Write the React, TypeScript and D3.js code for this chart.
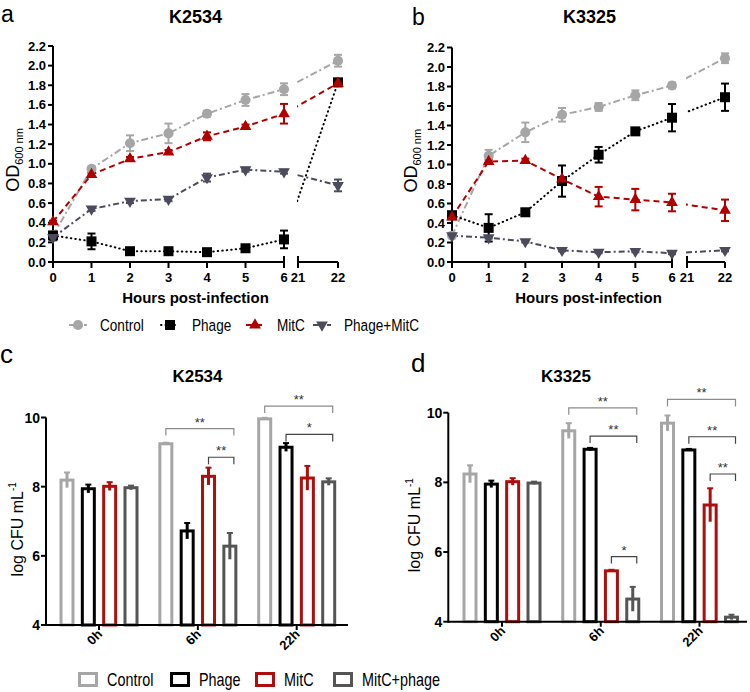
import React from "react";
import * as d3 from "d3";

// ---- growth curves (panels a, b) ----
const hours = [0, 1, 2, 3, 4, 5, 6, 22];
const hourTicks = [0, 1, 2, 3, 4, 5, 6, 21, 22];
const odTicks = [0, 0.2, 0.4, 0.6, 0.8, 1.0, 1.2, 1.4, 1.6, 1.8, 2.0, 2.2];
const lineSeries = ["Control", "Phage", "MitC", "Phage+MitC"];

const controlA = [0.27, 0.95, 1.21, 1.31, 1.51, 1.65, 1.76, 2.05];
const controlAErr = [0.04, 0.02, 0.08, 0.1, 0.03, 0.06, 0.06, 0.06];
const phageA = [0.27, 0.21, 0.11, 0.11, 0.1, 0.14, 0.23, 1.83];
const phageAErr = [0.02, 0.08, 0.02, 0.01, 0.01, 0.02, 0.09, 0.03];
const mitcA = [0.41, 0.89, 1.05, 1.12, 1.28, 1.38, 1.51, 1.82];
const mitcAErr = [0.01, 0.02, 0.02, 0.02, 0.04, 0.02, 0.1, 0.03];
const comboA = [0.25, 0.54, 0.62, 0.64, 0.86, 0.94, 0.92, 0.78];
const comboAErr = [0.03, 0.02, 0.02, 0.02, 0.04, 0.02, 0.02, 0.06];

const controlB = [0.27, 1.09, 1.33, 1.51, 1.59, 1.71, 1.81, 2.09];
const controlBErr = [0.02, 0.06, 0.1, 0.07, 0.04, 0.05, 0.03, 0.05];
const phageB = [0.48, 0.35, 0.51, 0.83, 1.1, 1.34, 1.48, 1.69];
const phageBErr = [0.03, 0.14, 0.02, 0.16, 0.08, 0.02, 0.14, 0.14];
const mitcB = [0.46, 1.03, 1.04, 0.85, 0.67, 0.64, 0.61, 0.53];
const mitcBErr = [0.02, 0.02, 0.02, 0.02, 0.1, 0.11, 0.09, 0.11];
const comboB = [0.27, 0.25, 0.21, 0.12, 0.1, 0.11, 0.09, 0.12];
const comboBErr = [0.01, 0.01, 0.01, 0.01, 0.01, 0.01, 0.01, 0.01];

// ---- viable counts (panels c, d) ----
const timePoints = ["0h", "6h", "22h"];
const barSeries = ["Control", "Phage", "MitC", "MitC+phage"];
const cfuTicks = [4, 6, 8, 10];

const controlC = [8.19, 9.24, 9.96];
const controlCErr = [0.22, 0.03, 0.03];
const phageC = [7.94, 6.72, 9.14];
const phageCErr = [0.12, 0.23, 0.12];
const mitcC = [8.01, 8.3, 8.25];
const mitcCErr = [0.12, 0.25, 0.35];
const comboC = [7.97, 6.28, 8.14];
const comboCErr = [0.06, 0.38, 0.1];

const controlD = [8.24, 9.48, 9.7];
const controlDErr = [0.25, 0.22, 0.22];
const phageD = [7.95, 8.95, 8.93];
const phageDErr = [0.1, 0.04, 0.03];
const mitcD = [8.02, 5.46, 7.35];
const mitcDErr = [0.1, 0.03, 0.48];
const comboD = [7.98, 4.65, 4.13];
const comboDErr = [0.04, 0.35, 0.07];

// significance: [time point, from series, to series, level (log CFU), label]
const sigC: [string, number, number, number, string][] = [
  ["6h", 0, 3, 9.68, "**"],
  ["6h", 2, 3, 8.85, "**"],
  ["22h", 0, 3, 10.33, "**"],
  ["22h", 1, 3, 9.51, "*"],
];
const sigD: [string, number, number, number, string][] = [
  ["6h", 0, 3, 10.14, "**"],
  ["6h", 1, 3, 9.33, "**"],
  ["6h", 2, 3, 5.87, "*"],
  ["22h", 0, 3, 10.38, "**"],
  ["22h", 1, 3, 9.31, "**"],
  ["22h", 2, 3, 8.24, "**"],
];

// styles
const lineColors = ["#a6a6a6", "#000000", "#b00000", "#4b4b5c"];
const lineDash = ["7,3,2,3", "0.5,4", "6,4", "6,3,2,3"];
const barColors = ["#a6a6a6", "#000000", "#b00d0d", "#555555"];
const FONT = "'Liberation Sans', Arial, sans-serif";

function Marker({ i, x, y }: { i: number; x: number; y: number }) {
  const types = [d3.symbolCircle, d3.symbolSquare, d3.symbolTriangle, d3.symbolTriangle];
  const sizes = [80, 100, 60, 60];
  const d = d3.symbol().type(types[i]).size(sizes[i])() as string;
  const rot = i === 3 ? " rotate(180)" : "";
  return <path d={d} transform={`translate(${x},${y})${rot}`} fill={lineColors[i]} />;
}

function LinePanel(props: {
  id: string;
  values: number[][];
  errors: number[][];
  x0: number; x6: number; x21: number; x22: number;
  y0: number; yTop: number;
  title: string; titleX: number;
  letter: string; letterX: number; letterY: number;
  labelX: number;
}) {
  const { id, values, errors, x0, x6, x21, x22, y0, yTop } = props;
  const xa = d3.scaleLinear().domain([0, 6]).range([x0, x6]);
  const xb = d3.scaleLinear().domain([21, 22]).range([x21, x22]);
  const xOf = (h: number) => (h <= 6 ? xa(h) : xb(h));
  const y = d3.scaleLinear().domain([0, 2.2]).range([y0, yTop]);
  const line = d3
    .line<number>()
    .x((_, i) => xOf(hours[i]))
    .y((d) => y(d));
  const last = hours.length - 1;
  return (
    <g>
      <defs>
        <clipPath id={id + "-seg2"}>
          <rect x={x21 - 1} y={0} width={x22 - x21 + 30} height={y0} />
        </clipPath>
      </defs>
      <text x={props.letterX} y={props.letterY} fontSize={23} fontFamily={FONT}>
        {props.letter}
      </text>
      <text x={props.titleX} y={23} fontSize={18} fontWeight="bold" textAnchor="middle">
        {props.title}
      </text>
      {/* y axis */}
      <line x1={x0} x2={x0} y1={y(2.2)} y2={y0 + 1} stroke="#000" strokeWidth={2} />
      {odTicks.map((t) => (
        <g key={t}>
          <line x1={x0 - 5} x2={x0} y1={y(t)} y2={y(t)} stroke="#000" strokeWidth={2} />
          <text x={x0 - 7} y={y(t) + 4.5} fontSize={13} fontWeight="bold" textAnchor="end">
            {t.toFixed(1)}
          </text>
        </g>
      ))}
      <text transform={`translate(${props.labelX},${(y0 + yTop) / 2 + 6}) rotate(-90)`} textAnchor="middle">
        <tspan fontSize={18}>OD</tspan>
        <tspan fontSize={11} dy={4}>600 nm</tspan>
      </text>
      {/* x axis, broken */}
      <line x1={x0 - 1} x2={x6} y1={y0} y2={y0} stroke="#000" strokeWidth={2} />
      <line x1={x21} x2={x22} y1={y0} y2={y0} stroke="#000" strokeWidth={2} />
      {hourTicks.map((h) => (
        <g key={h}>
          <line x1={xOf(h)} x2={xOf(h)} y1={y0} y2={y0 + 6} stroke="#000" strokeWidth={2} />
          <line
            x1={xOf(h)} x2={xOf(h)} y1={y0} y2={h === 6 || h === 21 ? y0 - 6 : y0}
            stroke="#000" strokeWidth={2}
          />
          <text x={xOf(h)} y={y0 + 20} fontSize={13} fontWeight="bold" textAnchor="middle">
            {h}
          </text>
        </g>
      ))}
      <text x={(x0 + x22) / 2} y={y0 + 41} fontSize={15} fontWeight="bold" textAnchor="middle">
        Hours post-infection
      </text>
      {/* lines */}
      {values.map((vals, s) => (
        <g key={"l" + s} fill="none" stroke={lineColors[s]} strokeWidth={2}
          strokeDasharray={lineDash[s]} strokeLinecap={s === 1 ? "round" : "butt"}>
          <path d={line(vals.slice(0, last)) as string} />
          <line
            x1={xOf(hours[last - 1])} y1={y(vals[last - 1])}
            x2={xOf(hours[last])} y2={y(vals[last])}
            clipPath={`url(#${id}-seg2)`}
          />
        </g>
      ))}
      {/* error bars */}
      {values.map((vals, s) =>
        vals.map((v, i) => {
          const e = errors[s][i];
          const cx = xOf(hours[i]);
          return (
            <g key={"e" + s + "-" + i} stroke={lineColors[s]} strokeWidth={2}>
              <line x1={cx} x2={cx} y1={y(v - e)} y2={y(v + e)} />
              <line x1={cx - 4} x2={cx + 4} y1={y(v - e)} y2={y(v - e)} />
              <line x1={cx - 4} x2={cx + 4} y1={y(v + e)} y2={y(v + e)} />
            </g>
          );
        })
      )}
      {values.map((vals, s) =>
        vals.map((v, i) => <Marker key={"m" + s + "-" + i} i={s} x={xOf(hours[i])} y={y(v)} />)
      )}
    </g>
  );
}

function BarPanel(props: {
  values: number[][];
  errors: number[][];
  sig: [string, number, number, number, string][];
  axisX: number; axisEnd: number; c0: number; c2: number;
  y4: number; y10: number;
  title: string; titleX: number;
  letter: string; letterX: number; letterY: number;
  labelX: number;
}) {
  const { values, errors, axisX, axisEnd, y4, y10 } = props;
  const x = d3.scalePoint<string>().domain(timePoints).range([props.c0, props.c2]);
  const off = d3.scalePoint<string>().domain(barSeries).range([-32, 32]);
  const y = d3.scaleLinear().domain([4, 10]).range([y4, y10]);
  const bx = (t: string, s: number) => (x(t) as number) + (off(barSeries[s]) as number);
  return (
    <g>
      <text x={props.letterX} y={props.letterY} fontSize={26} fontFamily={FONT}>
        {props.letter}
      </text>
      <text x={props.titleX} y={382} fontSize={17} fontWeight="bold" textAnchor="middle">
        {props.title}
      </text>
      <line x1={axisX} x2={axisX} y1={y(10)} y2={y4 + 1} stroke="#000" strokeWidth={2} />
      {cfuTicks.map((t) => (
        <g key={t}>
          <line x1={axisX - 5} x2={axisX} y1={y(t)} y2={y(t)} stroke="#000" strokeWidth={2} />
          <text x={axisX - 6} y={y(t) + 5} fontSize={14} fontWeight="bold" textAnchor="end">
            {t}
          </text>
        </g>
      ))}
      <text transform={`translate(${props.labelX},${(y4 + y10) / 2 + 8}) rotate(-90)`} textAnchor="middle">
        <tspan fontSize={16}>log CFU mL</tspan>
        <tspan fontSize={10} dy={-7}>-1</tspan>
      </text>
      {/* bars */}
      {values.map((vals, s) =>
        vals.map((v, i) => {
          const t = timePoints[i];
          const cx = bx(t, s);
          const e = errors[s][i];
          return (
            <g key={"b" + s + "-" + i} stroke={barColors[s]}>
              <rect x={cx - 6} y={y(v)} width={12} height={y4 - y(v)} fill="none" strokeWidth={3} />
              <line x1={cx} x2={cx} y1={y(v - e)} y2={y(v + e)} strokeWidth={3} />
              <line x1={cx - 3} x2={cx + 3} y1={y(v + e)} y2={y(v + e)} strokeWidth={2} />
            </g>
          );
        })
      )}
      <line x1={axisX - 1} x2={axisEnd} y1={y4} y2={y4} stroke="#000" strokeWidth={2} />
      {timePoints.map((t) => (
        <g key={t}>
          <line x1={x(t)} x2={x(t)} y1={y4} y2={y4 + 5} stroke="#000" strokeWidth={2} />
          <text
            transform={`translate(${(x(t) as number) + 4},${y4 + 10}) rotate(-45)`}
            fontSize={13} fontWeight="bold" textAnchor="end"
          >
            {t}
          </text>
        </g>
      ))}
      {/* significance brackets */}
      {props.sig.map(([t, a, b, lv, lab], k) => {
        const x1 = bx(t, a);
        const x2 = bx(t, b) + 4;
        const yy = y(lv);
        return (
          <g key={"s" + k}>
            <path d={`M${x1},${yy + 7}V${yy}H${x2}V${yy + 7}`} fill="none"
              stroke={a === 0 ? "#8c8c8c" : "#444"} strokeWidth={1.2} />
            <text x={(x1 + x2) / 2} y={yy - 2} fontSize={13} textAnchor="middle" fill="#333">
              {lab}
            </text>
          </g>
        );
      })}
    </g>
  );
}

export default function App() {
  const topLegend = [78, 170, 255, 322];
  const botLegend = [78, 170, 255, 333];
  return (
    <div style={{ position: "absolute", left: 0, top: 0 }}>
      <svg width={750} height={692} fontFamily={FONT} style={{ display: "block", background: "#fff" }}>
        <LinePanel
          id="a"
          values={[controlA, phageA, mitcA, comboA]}
          errors={[controlAErr, phageAErr, mitcAErr, comboAErr]}
          x0={53} x6={284} x21={298} x22={338} y0={262} yTop={46}
          title="K2534" titleX={195.5} letter="a" letterX={1} letterY={22} labelX={19}
        />
        <LinePanel
          id="b"
          values={[controlB, phageB, mitcB, comboB]}
          errors={[controlBErr, phageBErr, mitcBErr, comboBErr]}
          x0={452} x6={672} x21={687} x22={725} y0={262} yTop={47.5}
          title="K3325" titleX={589.5} letter="b" letterX={412} letterY={25} labelX={417}
        />
        {/* top legend */}
        {lineSeries.map((name, i) => (
          <g key={name}>
            <line x1={topLegend[i] - 9} x2={topLegend[i] + 9} y1={325} y2={325}
              stroke={lineColors[i]} strokeWidth={2} strokeDasharray={lineDash[i]}
              strokeLinecap={i === 1 ? "round" : "butt"} />
            <Marker i={i} x={topLegend[i]} y={325} />
            <text transform={`translate(${topLegend[i] + 22},331) scale(0.8,1)`} fontSize={17}>
              {name}
            </text>
          </g>
        ))}
        <BarPanel
          values={[controlC, phageC, mitcC, comboC]}
          errors={[controlCErr, phageCErr, mitcCErr, comboCErr]}
          sig={sigC}
          axisX={46} axisEnd={348} c0={99} c2={296.7} y4={625} y10={417.5}
          title="K2534" titleX={197.5} letter="c" letterX={0} letterY={363} labelX={23}
        />
        <BarPanel
          values={[controlD, phageD, mitcD, comboD]}
          errors={[controlDErr, phageDErr, mitcDErr, comboDErr]}
          sig={sigD}
          axisX={448.3} axisEnd={747} c0={502} c2={699.5} y4={621.7} y10={412.7}
          title="K3325" titleX={566} letter="d" letterX={411} letterY={372} labelX={420}
        />
        {/* bottom legend */}
        {barSeries.map((name, i) => (
          <g key={name}>
            <rect x={botLegend[i] + 1.5} y={673.5} width={17} height={12} fill="none"
              stroke={barColors[i]} strokeWidth={3} />
            <text transform={`translate(${botLegend[i] + 29},686) scale(0.8,1)`} fontSize={18}>
              {name}
            </text>
          </g>
        ))}
      </svg>
    </div>
  );
}
